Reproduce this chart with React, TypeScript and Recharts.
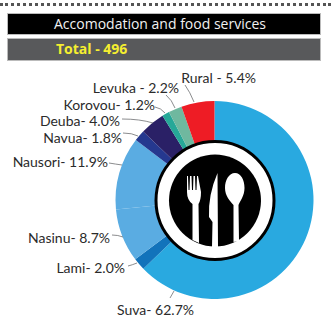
import { PieChart, Pie, Cell } from 'recharts';

const towns = ['Suva', 'Lami', 'Nasinu', 'Nausori', 'Navua', 'Deuba', 'Korovou', 'Levuka', 'Rural'];
const shares = [62.7, 2.0, 8.7, 11.9, 1.8, 4.0, 1.2, 2.2, 5.4];
const sliceLabels = [
  'Suva- 62.7%',
  'Lami- 2.0%',
  'Nasinu- 8.7%',
  'Nausori- 11.9%',
  'Navua- 1.8%',
  'Deuba- 4.0%',
  'Korovou- 1.2%',
  'Levuka - 2.2%',
  'Rural - 5.4%',
];
const COLORS = ['#29a9e0', '#1273bb', '#5aace2', '#5aace2', '#25388f', '#2a2066', '#26a898', '#6fb89f', '#ee1c25'];

const data = towns.map((name, i) => ({ name, value: shares[i] }));

// right end / middle of each label, and where its leader line starts and bends
const LABEL_POS = [
  [194, 309],
  [125, 267],
  [110, 237],
  [108, 161],
  [122, 137],
  [120, 120],
  [155, 104],
  [179, 87],
  [256, 77],
];
const LEADERS = [
  'M170 298 L174 291',
  'M128 266 Q132 265 137 263',
  'M112 235 Q118 235 123 237',
  'M109 163 Q115 164 122 165',
  'M123 133 Q132 133 138 136',
  'M122 119 Q140 119 153 123',
  'M155 107 Q161 108 165 113',
  'M166 95 Q172 100 175 108',
  'M185 85 Q190 92 194 102',
];

const CX = 214.5;
const CY = 200;

function renderLabel(props: any) {
  const { index } = props;
  const [x, y] = LABEL_POS[index];
  return (
    <g key={index}>
      <path d={LEADERS[index]} fill="none" stroke="#6d6e71" strokeWidth={0.8} />
      <text
        x={x}
        y={y}
        textAnchor="end"
        dominantBaseline="central"
        fontFamily="Lato, sans-serif"
        fontSize={14}
        fill="#2b2b2b"
      >
        {sliceLabels[index]}
      </text>
    </g>
  );
}

function CutleryIcon() {
  return (
    <svg width={331} height={324} style={{ position: 'absolute', left: 0, top: 0 }}>
      <circle cx={215} cy={200.5} r={59} fill="#fff" stroke="#000" strokeWidth={3} />
      <circle cx={215} cy={200.5} r={46} fill="#000" />
      {/* fork */}
      <path
        d="M187 176 L188 176 L188.5 190 L189.5 190 L190 176 L191.5 176 L192 190 L193 190 L193.5 176 L195 176 L195.5 190 L196.5 190 L197 176 L198 176 L201 192 Q201 200 198.5 204 L199 243 L192.5 240 L192.5 204 Q187 200 187 192 Z"
        fill="#fff"
      />
      {/* knife */}
      <path d="M217.5 173 L218 247 L212 247 L212.5 222 L209 217 Q208 195 217.5 173 Z" fill="#fff" />
      {/* spoon */}
      <path
        d="M235 173 C241 173 244.5 180 244.5 188 C244.5 196 240 201 238.5 205 L239 241 L233.5 242 L233.5 205 C230 201 225 196 225 188 C225 180 229 173 235 173 Z"
        fill="#fff"
      />
    </svg>
  );
}

export default function App() {
  return (
    <div style={{ position: 'absolute', left: 0, top: 0, width: 331, height: 324, background: '#fff', overflow: 'hidden' }}>
      <div style={{ position: 'absolute', left: 0, top: 3, width: 331, borderTop: '3px dotted #555' }} />
      <div
        style={{
          position: 'absolute',
          left: 7,
          top: 13,
          width: 314,
          height: 22,
          boxSizing: 'border-box',
          background: '#000',
          border: '1px solid #bbb',
          color: '#f1f1f1',
          fontFamily: "'Open Sans', sans-serif",
          fontSize: 14,
          lineHeight: '20px',
          paddingLeft: 46,
          whiteSpace: 'nowrap',
        }}
      >
        Accomodation and food services
      </div>
      <div
        style={{
          position: 'absolute',
          left: 7,
          top: 38,
          width: 314,
          height: 23,
          boxSizing: 'border-box',
          background: '#58595b',
          border: '1px solid #bbb',
          color: '#f5ee30',
          fontFamily: "'Open Sans', sans-serif",
          fontWeight: 700,
          fontSize: 14,
          lineHeight: '20px',
          paddingLeft: 48,
          whiteSpace: 'nowrap',
        }}
      >
        Total - 496
      </div>
      <div style={{ position: 'absolute', left: 0, top: 0 }}>
        <PieChart width={331} height={324} margin={{ top: 0, right: 0, bottom: 0, left: 0 }}>
          <Pie
            data={data}
            dataKey="value"
            cx={CX}
            cy={CY}
            innerRadius={56}
            outerRadius={99}
            startAngle={90}
            endAngle={-270}
            stroke="none"
            label={renderLabel}
            labelLine={false}
            isAnimationActive={false}
          >
            {data.map((entry, index) => (
              <Cell key={`cell-${index}`} fill={COLORS[index]} />
            ))}
          </Pie>
        </PieChart>
      </div>
      <CutleryIcon />
    </div>
  );
}
